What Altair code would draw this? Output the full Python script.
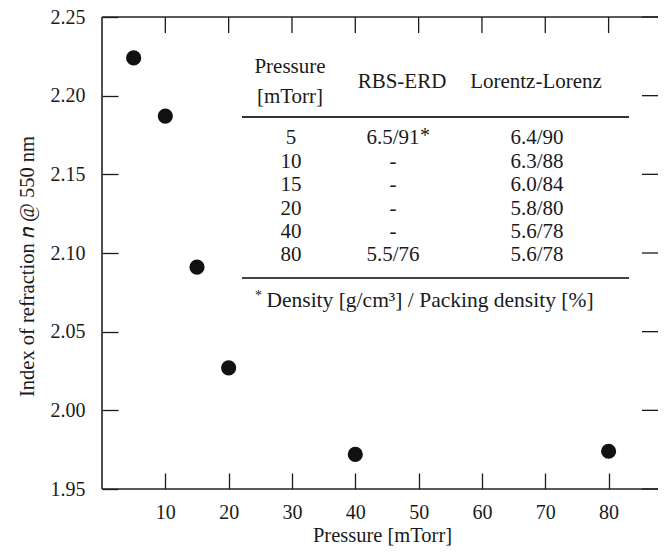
import altair as alt
import pandas as pd

# ---- data ----
pressure = [5, 10, 15, 20, 40, 80]
n_index = [2.224, 2.187, 2.091, 2.027, 1.972, 1.974]

x_ticks = [10, 20, 30, 40, 50, 60, 70, 80]
y_ticks = [1.95, 2.00, 2.05, 2.10, 2.15, 2.20, 2.25]

tbl_pressure = ["5", "10", "15", "20", "40", "80"]
tbl_rbs = ["6.5/91", "-", "-", "-", "-", "5.5/76"]
tbl_ll = ["6.4/90", "6.3/88", "6.0/84", "5.8/80", "5.6/78", "5.6/78"]
hdr_pressure = ["Pressure", "[mTorr]"]
hdr_rbs = "RBS-ERD"
hdr_ll = "Lorentz-Lorenz"
footnote = "Density [g/cm³] / Packing density [%]"

FONT = "Liberation Serif"
INK = "#1a1a1a"
W, H = 556, 472

df = pd.DataFrame({"p": pressure, "n": n_index})
rows = pd.DataFrame({"i": list(range(len(tbl_pressure))),
                     "pr": tbl_pressure, "rbs": tbl_rbs, "ll": tbl_ll})
xt = pd.DataFrame({"t": x_ticks})
yt = pd.DataFrame({"t": y_ticks})

xs = alt.Scale(domain=[0, 87.8], nice=False, zero=False)
ys = alt.Scale(domain=[1.95, 2.25], nice=False, zero=False)

common = dict(offset=-16, tickSize=16, domain=False, grid=False,
              tickColor=INK, tickWidth=1.3,
              labelFont=FONT, labelFontSize=20, labelColor=INK,
              titleFont=FONT, titleFontSize=20.5, titleFontWeight="normal",
              titleColor=INK, titleBaseline="alphabetic", titleAlign="center")

bottom_axis = alt.Axis(orient="bottom", values=x_ticks, format="d",
                       labelPadding=13, title="Pressure [mTorr]",
                       titleX=280, titleY=68, **common)
left_axis = alt.Axis(orient="left", values=y_ticks, format=".2f",
                     labelPadding=17, title="Index of refraction 𝑛 @ 550 nm",
                     titleAngle=270, titleX=-85, titleY=249, **common)

points = alt.Chart(df).mark_circle(size=230, color="#111", opacity=1).encode(
    x=alt.X("p:Q", scale=xs, axis=bottom_axis),
    y=alt.Y("n:Q", scale=ys, axis=left_axis),
)

# inward ticks on the top and right edges, placed through the shared scales
top_ticks = alt.Chart(xt).mark_rule(color=INK, strokeWidth=1.3).encode(
    x=alt.X("t:Q", scale=xs, axis=bottom_axis), y=alt.value(0), y2=alt.value(16))
right_ticks = alt.Chart(yt).mark_rule(color=INK, strokeWidth=1.3).encode(
    y=alt.Y("t:Q", scale=ys, axis=left_axis), x=alt.value(W - 16), x2=alt.value(W))

# frame (left, top, bottom); the right edge lies outside the picture
one = pd.DataFrame({"k": [0]})
fr = dict(color="#222", strokeWidth=1.6)
frame_l = alt.Chart(one).mark_rule(**fr).encode(x=alt.value(0), y=alt.value(0), y2=alt.value(H))
frame_t = alt.Chart(one).mark_rule(**fr).encode(x=alt.value(0), x2=alt.value(W), y=alt.value(0))
frame_b = alt.Chart(one).mark_rule(**fr).encode(x=alt.value(0), x2=alt.value(W), y=alt.value(H))

txt = dict(font=FONT, fontSize=21, color=INK, baseline="alphabetic", align="center")

body = alt.Chart(rows).transform_calculate(ty="127.4 + datum.i * 23.4")
col_p = body.mark_text(**txt).encode(x=alt.value(189), y=alt.Y("ty:Q", scale=None, axis=None), text="pr:N")
col_r = body.mark_text(**txt).encode(x=alt.value(291), y=alt.Y("ty:Q", scale=None, axis=None), text="rbs:N")
col_l = body.mark_text(**txt).encode(x=alt.value(435), y=alt.Y("ty:Q", scale=None, axis=None), text="ll:N")

h1 = alt.Chart(one).mark_text(**txt, text=hdr_pressure[0]).encode(x=alt.value(188), y=alt.value(56))
h2 = alt.Chart(one).mark_text(**txt, text=hdr_pressure[1]).encode(x=alt.value(188), y=alt.value(85.5))
h3 = alt.Chart(one).mark_text(**txt, text=hdr_rbs).encode(x=alt.value(300), y=alt.value(71))
h4 = alt.Chart(one).mark_text(**txt, text=hdr_ll).encode(x=alt.value(434), y=alt.value(71))
star = alt.Chart(one).mark_text(font=FONT, fontSize=20, color=INK, align="left",
                                baseline="alphabetic", text="*").encode(
    x=alt.value(318), y=alt.value(125))
fn_star = alt.Chart(one).mark_text(font=FONT, fontSize=14, color=INK, align="left",
                                   baseline="alphabetic", text="*").encode(
    x=alt.value(153), y=alt.value(283))
fn = alt.Chart(one).mark_text(font=FONT, fontSize=21.5, color=INK, align="center",
                              baseline="alphabetic", text=footnote).encode(
    x=alt.value(328), y=alt.value(290))

rule_top = alt.Chart(one).mark_rule(color="#333", strokeWidth=1.8).encode(
    x=alt.value(140), x2=alt.value(527), y=alt.value(100))
rule_bot = alt.Chart(one).mark_rule(color="#444", strokeWidth=2).encode(
    x=alt.value(140), x2=alt.value(527), y=alt.value(261))

chart = alt.layer(
    points, top_ticks, right_ticks, frame_l, frame_t, frame_b,
    rule_top, rule_bot, col_p, col_r, col_l,
    h1, h2, h3, h4, star, fn_star, fn,
).properties(
    width=W, height=H,
    autosize=alt.AutoSizeParams(type="none"),
    padding={"left": 94, "top": 9, "right": 0, "bottom": 57},
).configure(
    font=FONT,
    style={"guide-label": {"font": FONT}, "guide-title": {"font": FONT}},
).configure_view(stroke=None).configure_axis(
    labelFont=FONT, labelFontSize=20, labelColor=INK,
    titleFont=FONT, titleFontSize=20.5, titleFontWeight="normal", titleColor=INK,
)

chart.save("out.html", embed_options={"renderer": "svg", "actions": False})
